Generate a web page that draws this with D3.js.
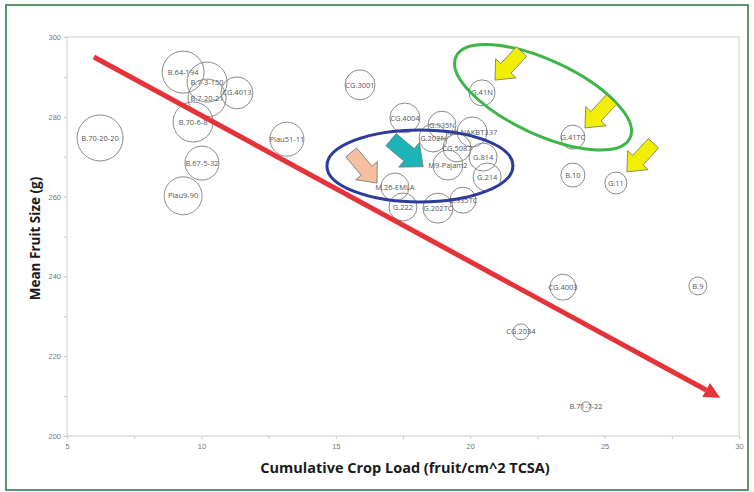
<!DOCTYPE html>
<html>
<head>
<meta charset="utf-8">
<script src="https://cdn.jsdelivr.net/npm/d3@7"></script>
<style>
  body { margin: 0; background: #fff; }
  svg { display: block; font-family: "Open Sans", "DejaVu Sans", sans-serif; }
</style>
</head>
<body>
<div class="chart"></div>
<script>
var width = 754;
var height = 492;

// rootstock labels, crop load (x), fruit size (y), bubble size
var names = ["B.70-20-20", "B.64-194", "B.7-3-150", "B.7-20-21", "CG.4013", "B.70-6-8",
  "Piau51-11", "B.67-5-32", "Piau9-90", "CG.3001", "CG.4004", "G.935N", "G.202N",
  "M9-NAKBT337", "CG.5087", "G.814", "M9-Pajam2", "G.214", "M.26-EMLA", "G.222",
  "G.202TC", "G.935TC", "G.41N", "G.41TC", "B.10", "G.11", "CG.4003", "B.9",
  "CG.2034", "B.71-7-22"];
var cropLoad = [6.23, 9.32, 10.21, 10.21, 11.32, 9.69, 13.18, 10.02, 9.32, 15.90, 17.57, 18.95, 18.62,
  20.07, 19.51, 20.48, 19.17, 20.63, 17.20, 17.50, 18.80, 19.73, 20.44, 23.82, 23.82, 25.42,
  23.45, 28.47, 21.89, 24.31];
var fruitSize = [274.7, 291.2, 288.7, 284.7, 286.0, 278.7, 274.4, 268.4, 260.2, 288.0, 279.7, 277.9, 274.7,
  276.2, 272.2, 269.9, 267.9, 264.9, 262.4, 257.4, 257.1, 259.1, 286.0, 274.9, 265.4, 263.4,
  237.3, 237.6, 226.1, 207.3];
var bubbleSize = [529, 441, 400, 361, 256, 400, 289, 289, 361, 225, 225, 196, 196,
  225, 196, 196, 225, 196, 196, 196, 225, 169, 169, 144, 144, 121, 169, 81, 64, 25];

var xTicks = [5, 10, 15, 20, 25, 30];
var yTicks = [200, 220, 240, 260, 280, 300];

// annotations in data units
var trendLine = [[6.0, 295.0], [29.3, 209.6]];
var yellowArrows = [[20.92, 289.2], [24.27, 277.2], [25.83, 266.2]];   // tip positions
var salmonArrow = [16.53, 263.4];
var tealArrow = [18.25, 267.5];
var blueRing = [18.13, 267.7];
var greenRing = [22.71, 284.9];

var margin = {left: 67, right: 15, top: 37, bottom: 56};

var svg = d3.select(".chart").append("svg")
    .attr("width", width)
    .attr("height", height);

svg.append("rect")
    .attr("x", 6).attr("y", 5)
    .attr("width", 742).attr("height", 485)
    .attr("fill", "#fff")
    .attr("stroke", "#2f7d4a")
    .attr("stroke-width", 1.6);

var x = d3.scaleLinear().domain([5, 30]).range([margin.left, width - margin.right]);
var y = d3.scaleLinear().domain([200, 300]).range([height - margin.bottom, margin.top]);
var r = d3.scaleSqrt().domain([0, 529]).range([0, 23]);

var plotW = x(30) - x(5), plotH = y(200) - y(300);

svg.append("rect")
    .attr("x", x(5)).attr("y", y(300))
    .attr("width", plotW).attr("height", plotH)
    .attr("fill", "none")
    .attr("stroke", "#d6d6d6")
    .attr("stroke-width", 1.2);

var xAxis = svg.append("g")
    .attr("transform", "translate(0," + y(200) + ")")
    .call(d3.axisBottom(x).tickValues(d3.range(5, 30.1, 2.5)).tickSize(3)
      .tickFormat(function(d) { return xTicks.includes(d) ? d : ""; }));
var yAxis = svg.append("g")
    .attr("transform", "translate(" + x(5) + ",0)")
    .call(d3.axisLeft(y).tickValues(d3.range(200, 300.1, 10)).tickSize(3)
      .tickFormat(function(d) { return yTicks.includes(d) ? d : ""; }));

[xAxis, yAxis].forEach(function(a) {
  a.select(".domain").remove();
  a.selectAll("line").attr("stroke", "#c8c8c8");
  a.selectAll("text").attr("fill", "#777").style("font-size", "7.5px");
});
xAxis.selectAll("text").attr("dy", "0.9em");

svg.append("text")
    .attr("x", (x(5) + x(30)) / 2 + 2)
    .attr("y", 473)
    .attr("text-anchor", "middle")
    .style("font-size", "14.5px")
    .style("font-weight", "bold")
    .attr("fill", "#1a1a1a")
    .text("Cumulative Crop Load (fruit/cm^2 TCSA)");

svg.append("text")
    .attr("transform", "translate(40," + (y(250) + 2) + ") rotate(-90)")
    .attr("text-anchor", "middle")
    .style("font-size", "13.5px")
    .style("font-weight", "bold")
    .attr("fill", "#1a1a1a")
    .text("Mean Fruit Size (g)");

var data = names.map(function(n, i) {
  return {name: n, x: cropLoad[i], y: fruitSize[i], s: bubbleSize[i]};
});

var bubbles = svg.append("g").selectAll("g")
    .data(data)
    .enter().append("g")
    .attr("transform", function(d) { return "translate(" + x(d.x) + "," + y(d.y) + ")"; });

bubbles.append("circle")
    .attr("r", function(d) { return r(d.s); })
    .attr("fill", "none")
    .attr("stroke", "#8a8a8a")
    .attr("stroke-width", 1);

bubbles.append("text")
    .attr("text-anchor", "middle")
    .attr("dy", "0.35em")
    .style("font-size", "7.5px")
    .attr("fill", "#555")
    .text(function(d) { return d.name; });

// ellipses
svg.append("ellipse")
    .attr("cx", x(blueRing[0])).attr("cy", y(blueRing[1]))
    .attr("rx", 93).attr("ry", 36)
    .attr("fill", "none")
    .attr("stroke", "#2c3b9c")
    .attr("stroke-width", 3);

svg.append("ellipse")
    .attr("transform", "translate(" + x(greenRing[0]) + "," + y(greenRing[1]) + ") rotate(25)")
    .attr("rx", 96).attr("ry", 37)
    .attr("fill", "none")
    .attr("stroke", "#3cb54a")
    .attr("stroke-width", 3);

// block arrow pointing along +x, tip at origin
function arrowShape(len, head, hw, sw) {
  return "M0,0 L" + (-head) + "," + (-hw) + " L" + (-head) + "," + (-sw) +
    " L" + (-len) + "," + (-sw) + " L" + (-len) + "," + sw +
    " L" + (-head) + "," + sw + " L" + (-head) + "," + hw + " Z";
}

function blockArrow(pos, angle, fill, len, hw) {
  svg.append("path")
      .attr("d", arrowShape(len, hw * 1.15, hw, hw * 0.5))
      .attr("transform", "translate(" + x(pos[0]) + "," + y(pos[1]) + ") rotate(" + angle + ")")
      .attr("fill", fill)
      .attr("stroke", "#777")
      .attr("stroke-width", 0.8);
}

yellowArrows.forEach(function(p) { blockArrow(p, 133, "#f2ee00", 39, 14); });
blockArrow(salmonArrow, 50, "#f6bfa0", 40, 14);
blockArrow(tealArrow, 40, "#1db4b8", 42, 16);

// trend arrow
var p0 = [x(trendLine[0][0]), y(trendLine[0][1])];
var p1 = [x(trendLine[1][0]), y(trendLine[1][1])];
var ang = Math.atan2(p1[1] - p0[1], p1[0] - p0[0]);
var headLen = 16;
var base = [p1[0] - headLen * Math.cos(ang), p1[1] - headLen * Math.sin(ang)];

svg.append("line")
    .attr("x1", p0[0]).attr("y1", p0[1])
    .attr("x2", base[0]).attr("y2", base[1])
    .attr("stroke", "#e5333a")
    .attr("stroke-width", 5);

svg.append("path")
    .attr("d", "M0,0 L-16,-8 L-16,8 Z")
    .attr("transform", "translate(" + p1[0] + "," + p1[1] + ") rotate(" + (ang * 180 / Math.PI) + ")")
    .attr("fill", "#e5333a");
</script>
</body>
</html>
